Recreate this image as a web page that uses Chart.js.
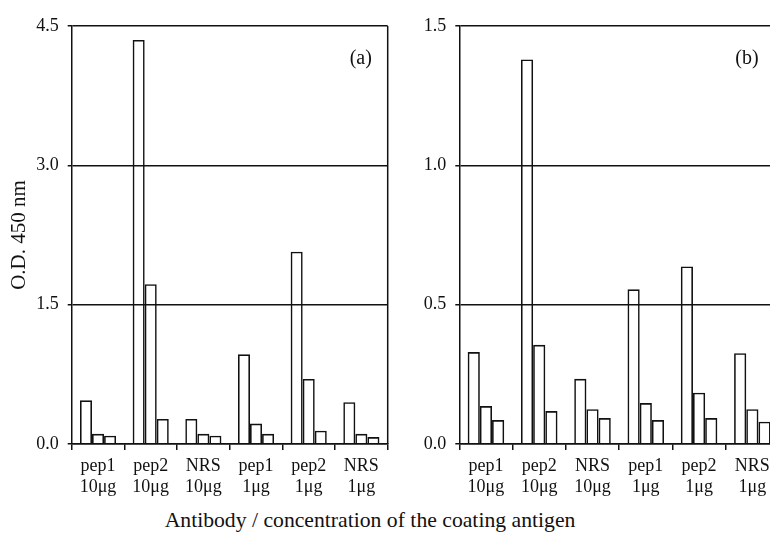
<!DOCTYPE html>
<html>
<head>
<meta charset="utf-8">
<script src="https://cdn.jsdelivr.net/npm/chart.js@4.4.1/dist/chart.umd.min.js"></script>
<style>
  html, body { margin: 0; padding: 0; background: #fff; }
  body { width: 770px; height: 540px; overflow: hidden; position: relative; }
  #chartA { position: absolute; left: 0; top: 0; }
  #chartB { position: absolute; left: 400px; top: 0; }
  #xTitle {
    position: absolute; left: 0; top: 508px; width: 740px;
    text-align: center; font: 21.7px "Liberation Serif", "Times New Roman", serif;
    line-height: 25px; color: #111;
  }
</style>
</head>
<body>
<canvas id="chartA" width="395" height="500"></canvas>
<canvas id="chartB" width="385" height="500"></canvas>
<div id="xTitle">Antibody / concentration of the coating antigen</div>
<script>
const categories = [
    ["pep1", "10μg"], ["pep2", "10μg"], ["NRS", "10μg"],
    ["pep1", "1μg"], ["pep2", "1μg"], ["NRS", "1μg"]
];

// panel (a)
const seriesA1 = [0.47, 4.35, 0.27, 0.965, 2.07, 0.45];
const seriesA2 = [0.11, 1.72, 0.11, 0.22, 0.70, 0.11];
const seriesA3 = [0.09, 0.27, 0.09, 0.11, 0.143, 0.075];
const ticksA = [0, 1.5, 3.0, 4.5];

// panel (b)
const seriesB1 = [0.33, 1.38, 0.234, 0.555, 0.637, 0.326];
const seriesB2 = [0.136, 0.356, 0.125, 0.147, 0.184, 0.125];
const seriesB3 = [0.086, 0.118, 0.093, 0.086, 0.093, 0.08];
const ticksB = [0, 0.5, 1.0, 1.5];

const ink = '#111';
const serif = '"Liberation Serif", "Times New Roman", serif';

// draws the right frame edge and the (a)/(b) tag
const panelLabel = {
    id: 'panelLabel',
    afterDraw(chart, args, opts) {
        const { ctx, chartArea } = chart;
        ctx.save();
        ctx.strokeStyle = ink;
        ctx.lineWidth = 1.5;
        ctx.beginPath();
        ctx.moveTo(chartArea.right, chartArea.top);
        ctx.lineTo(chartArea.right, chartArea.bottom);
        ctx.stroke();
        ctx.fillStyle = ink;
        ctx.font = '20px ' + serif;
        ctx.textAlign = 'left';
        ctx.textBaseline = 'middle';
        ctx.fillText(opts.text, chartArea.left + opts.dx, chartArea.top + 33);
        ctx.restore();
    }
};

function bar(data) {
    return {
        data: data,
        backgroundColor: 'rgba(255,255,255,0)',
        borderColor: ink,
        borderWidth: 1.6,
        categoryPercentage: 0.686,
        barPercentage: 1.0
    };
}

function makeChart(id, series, tickVals, yWidth, padRight, label, title) {
    const ctx = document.getElementById(id).getContext('2d');
    return new Chart(ctx, {
        type: 'bar',
        data: {
            labels: categories,
            datasets: series.map(bar)
        },
        options: {
            responsive: false,
            animation: false,
            layout: { padding: { top: 26, right: padRight, left: 0, bottom: 0 } },
            plugins: {
                legend: { display: false },
                tooltip: { enabled: false },
                panelLabel: label
            },
            scales: {
                x: {
                    afterFit(scale) { scale.height = 56; },
                    grid: {
                        drawOnChartArea: false,
                        drawTicks: true,
                        tickLength: 6,
                        color: ink,
                        lineWidth: 1.5
                    },
                    border: { color: ink, width: 1.5 },
                    ticks: {
                        color: ink,
                        padding: 5,
                        maxRotation: 0,
                        autoSkip: false,
                        font: { family: serif, size: 18 }
                    }
                },
                y: {
                    min: tickVals[0],
                    max: tickVals[tickVals.length - 1],
                    afterFit(scale) { scale.width = yWidth; },
                    afterBuildTicks(scale) {
                        scale.ticks = tickVals.map(v => ({ value: v }));
                    },
                    grid: {
                        color: ink,
                        lineWidth: 1.5,
                        tickLength: 4
                    },
                    border: { color: ink, width: 1.5 },
                    title: title ? {
                        display: true,
                        text: title,
                        color: ink,
                        padding: { top: 7, bottom: 0 },
                        font: { family: serif, size: 21 }
                    } : { display: false },
                    ticks: {
                        color: ink,
                        padding: 9,
                        font: { family: serif, size: 18 },
                        callback: v => Number(v).toFixed(1)
                    }
                }
            }
        },
        plugins: [panelLabel]
    });
}

makeChart('chartA', [seriesA1, seriesA2, seriesA3], ticksA, 71.7, 7.3, { text: '(a)', dx: 278 }, 'O.D. 450 nm');
makeChart('chartB', [seriesB1, seriesB2, seriesB3], ticksB, 59.3, 6, { text: '(b)', dx: 276 }, null);
</script>
</body>
</html>
